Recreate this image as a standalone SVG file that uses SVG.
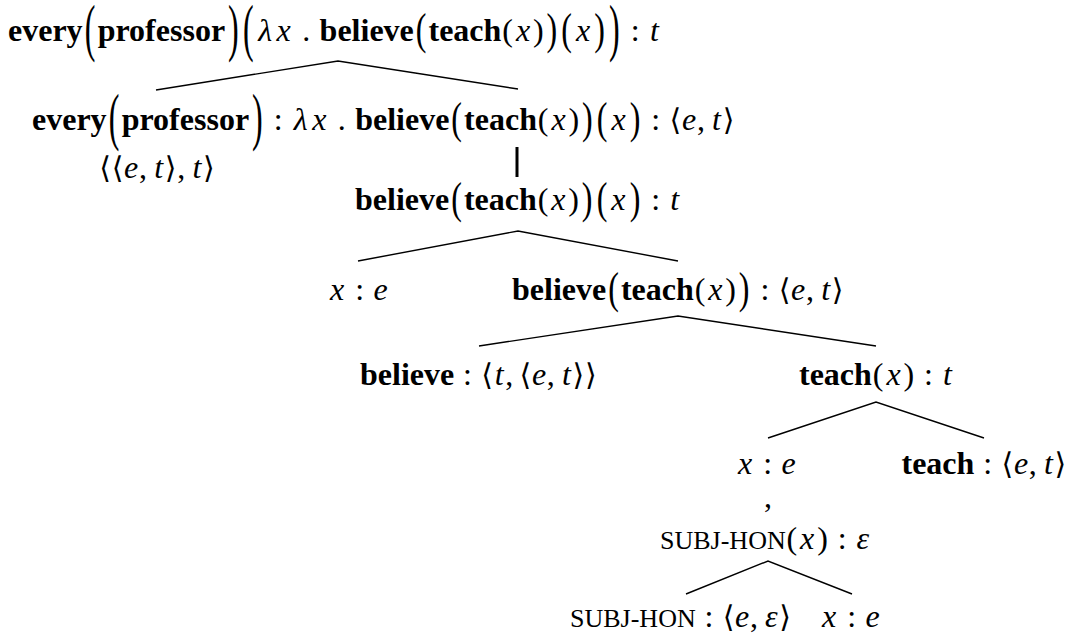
<svg xmlns="http://www.w3.org/2000/svg" width="1068" height="641" viewBox="0 0 1068 641">
<style>
text{font-family:"Liberation Serif","DejaVu Serif",serif;font-size:32px;fill:#000}
.b{font-weight:bold}
.m{font-style:italic;text-anchor:middle}
.r{text-anchor:middle}
.a{text-anchor:middle;font-family:"DejaVu Serif","DejaVu Sans",serif;font-size:30px}
.sc{font-size:26px}
.e{stroke:#000;stroke-width:1.4;fill:none}
.bar{stroke:#000;stroke-width:3}
</style>
<rect width="1068" height="641" fill="#fff"/>
<g id="n-root">
<text class="b" x="8" y="41">every</text>
<text class="r" transform="translate(90.1,49.25) scale(1,1.95)">(</text>
<text class="b" x="97.7" y="41">professor</text>
<text class="r" transform="translate(233.2,49.25) scale(1,1.95)">)</text>
<text class="r" transform="translate(248.3,49.25) scale(1,1.95)">(</text>
<text class="m" x="265.2" y="41">λ</text>
<text class="m" x="283.7" y="41">x</text>
<text class="r" x="306.2" y="41">.</text>
<text class="b" x="319.6" y="41">believe</text>
<text class="r" transform="translate(421.1,44) scale(1,1.37)">(</text>
<text class="b" x="428.5" y="41">teach</text>
<text class="r" x="507.6" y="41">(</text>
<text class="m" x="523" y="41">x</text>
<text class="r" x="538.3" y="41">)</text>
<text class="r" transform="translate(551.8,44) scale(1,1.37)">)</text>
<text class="r" transform="translate(566.5,44) scale(1,1.37)">(</text>
<text class="m" x="583" y="41">x</text>
<text class="r" transform="translate(599.5,44) scale(1,1.37)">)</text>
<text class="r" transform="translate(614.4,49.25) scale(1,1.95)">)</text>
<text class="r" x="635.3" y="41">:</text>
<text class="m" x="654.5" y="41">t</text>
</g>
<g id="n-every">
<text class="b" x="32" y="130">every</text>
<text class="r" transform="translate(114.1,138.25) scale(1,1.95)">(</text>
<text class="b" x="121.7" y="130">professor</text>
<text class="r" transform="translate(257.2,138.25) scale(1,1.95)">)</text>
<text class="r" x="278.1" y="130">:</text>
<text class="a" x="105.2" y="178">⟨</text>
<text class="a" x="117.6" y="178">⟨</text>
<text class="m" x="131.2" y="178">e</text>
<text class="r" x="143.1" y="178">,</text>
<text class="m" x="158.7" y="178">t</text>
<text class="a" x="170.7" y="178">⟩</text>
<text class="r" x="181.3" y="178">,</text>
<text class="m" x="196.9" y="178">t</text>
<text class="a" x="208.9" y="178">⟩</text>
</g>
<g id="n-lambda">
<text class="m" x="300.8" y="130">λ</text>
<text class="m" x="319.3" y="130">x</text>
<text class="r" x="341.8" y="130">.</text>
<text class="b" x="355.2" y="130">believe</text>
<text class="r" transform="translate(456.7,133) scale(1,1.37)">(</text>
<text class="b" x="464.1" y="130">teach</text>
<text class="r" x="543.2" y="130">(</text>
<text class="m" x="558.5" y="130">x</text>
<text class="r" x="573.9" y="130">)</text>
<text class="r" transform="translate(587.4,133) scale(1,1.37)">)</text>
<text class="r" transform="translate(602.1,133) scale(1,1.37)">(</text>
<text class="m" x="618.6" y="130">x</text>
<text class="r" transform="translate(635.1,133) scale(1,1.37)">)</text>
<text class="r" x="655.8" y="130">:</text>
<text class="a" x="675.4" y="130">⟨</text>
<text class="m" x="689" y="130">e</text>
<text class="r" x="701" y="130">,</text>
<text class="m" x="716.5" y="130">t</text>
<text class="a" x="728.5" y="130">⟩</text>
</g>
<g id="n-believe-x">
<text class="b" x="355" y="210">believe</text>
<text class="r" transform="translate(456.5,213) scale(1,1.37)">(</text>
<text class="b" x="463.9" y="210">teach</text>
<text class="r" x="543" y="210">(</text>
<text class="m" x="558.3" y="210">x</text>
<text class="r" x="573.7" y="210">)</text>
<text class="r" transform="translate(587.2,213) scale(1,1.37)">)</text>
<text class="r" transform="translate(602,213) scale(1,1.37)">(</text>
<text class="m" x="618.4" y="210">x</text>
<text class="r" transform="translate(635,213) scale(1,1.37)">)</text>
<text class="r" x="655.6" y="210">:</text>
<text class="m" x="674.8" y="210">t</text>
</g>
<g id="n-x1">
<text class="m" x="337.2" y="300">x</text>
<text class="r" x="359.7" y="300">:</text>
<text class="m" x="380.5" y="300">e</text>
</g>
<g id="n-believe-teach">
<text class="b" x="512" y="300">believe</text>
<text class="r" transform="translate(613.5,303) scale(1,1.37)">(</text>
<text class="b" x="620.9" y="300">teach</text>
<text class="r" x="700" y="300">(</text>
<text class="m" x="715.3" y="300">x</text>
<text class="r" x="730.7" y="300">)</text>
<text class="r" transform="translate(744.2,303) scale(1,1.37)">)</text>
<text class="r" x="765" y="300">:</text>
<text class="a" x="784.5" y="300">⟨</text>
<text class="m" x="798.1" y="300">e</text>
<text class="r" x="810" y="300">,</text>
<text class="m" x="825.6" y="300">t</text>
<text class="a" x="837.6" y="300">⟩</text>
</g>
<g id="n-believe">
<text class="b" x="360" y="385">believe</text>
<text class="r" x="467.5" y="385">:</text>
<text class="a" x="487.1" y="385">⟨</text>
<text class="m" x="499.1" y="385">t</text>
<text class="r" x="509.3" y="385">,</text>
<text class="a" x="525.3" y="385">⟨</text>
<text class="m" x="539" y="385">e</text>
<text class="r" x="550.8" y="385">,</text>
<text class="m" x="566.4" y="385">t</text>
<text class="a" x="578.4" y="385">⟩</text>
<text class="a" x="590.8" y="385">⟩</text>
</g>
<g id="n-teach-x">
<text class="b" x="799" y="385">teach</text>
<text class="r" x="878.1" y="385">(</text>
<text class="m" x="893.5" y="385">x</text>
<text class="r" x="908.8" y="385">)</text>
<text class="r" x="928.4" y="385">:</text>
<text class="m" x="947.5" y="385">t</text>
</g>
<g id="n-x2">
<text class="m" x="745.2" y="474">x</text>
<text class="r" x="767.7" y="474">:</text>
<text class="m" x="788.5" y="474">e</text>
<text class="r" x="768" y="507">,</text>
</g>
<g id="n-teach">
<text class="b" x="901.5" y="474">teach</text>
<text class="r" x="987.7" y="474">:</text>
<text class="a" x="1007.3" y="474">⟨</text>
<text class="m" x="1021" y="474">e</text>
<text class="r" x="1032.8" y="474">,</text>
<text class="m" x="1048.4" y="474">t</text>
<text class="a" x="1060.4" y="474">⟩</text>
</g>
<g id="n-subjhon-x">
<text class="sc" x="660" y="549">SUBJ-HON</text>
<text class="r" x="791.9" y="549">(</text>
<text class="m" x="807.2" y="549">x</text>
<text class="r" x="822.6" y="549">)</text>
<text class="r" x="842.1" y="549">:</text>
<text class="m" x="862.9" y="549">ε</text>
</g>
<g id="n-subjhon">
<text class="sc" x="570" y="627">SUBJ-HON</text>
<text class="r" x="709" y="627">:</text>
<text class="a" x="728.6" y="627">⟨</text>
<text class="m" x="742.2" y="627">e</text>
<text class="r" x="754.1" y="627">,</text>
<text class="m" x="771.3" y="627">ε</text>
<text class="a" x="785" y="627">⟩</text>
</g>
<g id="n-x3">
<text class="m" x="829.2" y="627">x</text>
<text class="r" x="851.7" y="627">:</text>
<text class="m" x="872.5" y="627">e</text>
</g>
<g id="connectors">
<path class="e" d="M156 90 L338 61 L518 89"/>
<line class="bar" x1="517" y1="147" x2="517" y2="177"/>
<path class="e" d="M358 261 L518 231 L678 261"/>
<path class="e" d="M479 346 L678 316 L876 346"/>
<path class="e" d="M768 438 L876 402 L984 438"/>
<path class="e" d="M686 594 L768 561 L852 594"/>
</g>
</svg>
